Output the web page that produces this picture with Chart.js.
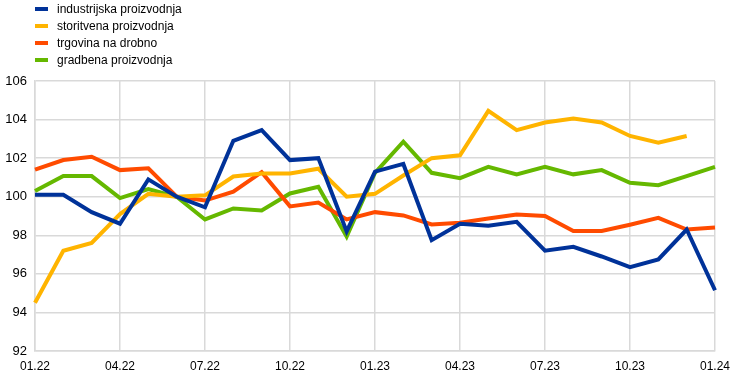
<!DOCTYPE html>
<html lang="sl">
<head>
    <meta charset="UTF-8">
    <title>Proizvodnja in trgovina</title>
    <style>
        body {
            margin: 0;
            background: #fff;
            font-family: "Liberation Sans", Arial, sans-serif;
        }
        #wrap {
            position: relative;
            width: 744px;
            height: 376px;
        }
        #legend {
            position: absolute;
            left: 35px;
            top: 0px;
            font-size: 12px;
            color: #000;
        }
        .item {
            display: flex;
            align-items: center;
            height: 17px;
        }
        .swatch {
            width: 13px;
            height: 4px;
            margin-right: 9px;
        }
    </style>
</head>
<body>
    <div id="wrap">
        <canvas id="chart" width="744" height="376"></canvas>
        <div id="legend"></div>
    </div>

    <script src="https://cdn.jsdelivr.net/npm/chart.js@4"></script>
    <script>
        // monthly, 01.22 - 01.24
        const months = [
            '01.22', '02.22', '03.22', '04.22', '05.22', '06.22', '07.22', '08.22', '09.22',
            '10.22', '11.22', '12.22', '01.23', '02.23', '03.23', '04.23', '05.23', '06.23',
            '07.23', '08.23', '09.23', '10.23', '11.23', '12.23', '01.24'
        ];

        const industrijska = [100.1, 100.1, 99.2, 98.6, 100.9, 100.0, 99.45, 102.9, 103.45, 101.9, 102.0, 98.2,
            101.3, 101.7, 97.75, 98.6, 98.5, 98.7, 97.2, 97.4, 96.9, 96.35, 96.75, 98.3, 95.15];
        const storitvena = [94.5, 97.2, 97.6, 99.1, 100.15, 100.0, 100.07, 101.05, 101.2, 101.2, 101.45, 100.0,
            100.15, 101.1, 102.0, 102.15, 104.45, 103.45, 103.85, 104.05, 103.85, 103.15, 102.8, 103.15, null];
        const trgovina = [101.4, 101.9, 102.07, 101.38, 101.47, 100.0, 99.8, 100.26, 101.27, 99.5, 99.7, 98.82,
            99.2, 99.03, 98.56, 98.65, 98.87, 99.08, 99.0, 98.22, 98.22, 98.55, 98.9, 98.3, 98.4];
        const gradbena = [100.3, 101.07, 101.07, 99.93, 100.4, 100.0, 98.82, 99.39, 99.29, 100.17, 100.52, 97.93,
            101.24, 102.85, 101.24, 100.96, 101.55, 101.16, 101.55, 101.16, 101.38, 100.72, 100.6, 101.07, 101.55];

        const seriesNames = ['industrijska proizvodnja', 'storitvena proizvodnja', 'trgovina na drobno', 'gradbena proizvodnja'];
        const seriesColors = ['#003299', '#FFB400', '#FF4B00', '#65B800'];
        const seriesData = [industrijska, storitvena, trgovina, gradbena];

        const gridColor = '#d9d9d9';

        const datasets = seriesNames.map((name, i) => ({
            label: name,
            data: seriesData[i],
            borderColor: seriesColors[i],
            backgroundColor: seriesColors[i],
            borderWidth: 4,
            pointRadius: 0,
            tension: 0,
            spanGaps: false
        }));

        // legend in html, stacked like the original
        const legendEl = document.getElementById('legend');
        seriesNames.forEach((name, i) => {
            const row = document.createElement('div');
            row.className = 'item';
            row.innerHTML = '<span class="swatch" style="background:' + seriesColors[i] + '"></span>' + name;
            legendEl.appendChild(row);
        });

        new Chart(document.getElementById('chart').getContext('2d'), {
            type: 'line',
            data: { labels: months, datasets: datasets },
            options: {
                responsive: false,
                animation: false,
                layout: { padding: { top: 81, right: 29, bottom: 0, left: 0 } },
                plugins: { legend: { display: false }, tooltip: { enabled: false } },
                scales: {
                    x: {
                        offset: false,
                        grid: {
                            color: (ctx) => (ctx.index % 3 === 0 ? gridColor : 'rgba(0,0,0,0)'),
                            lineWidth: 1.5,
                            drawTicks: false
                        },
                        border: { color: gridColor, width: 1.5 },
                        ticks: {
                            autoSkip: false,
                            maxRotation: 0,
                            padding: 8,
                            color: '#000',
                            font: { family: 'Liberation Sans', size: 12 },
                            callback: function (val, idx) {
                                return idx % 3 === 0 ? months[idx] : '';
                            }
                        },
                        afterFit: (s) => { s.height = 25; }
                    },
                    y: {
                        min: 92,
                        max: 106,
                        grid: { color: gridColor, lineWidth: 1.5, drawTicks: false },
                        border: { color: gridColor, width: 1.5 },
                        ticks: {
                            stepSize: 2,
                            padding: 8,
                            color: '#000',
                            font: { family: 'Liberation Sans', size: 13 }
                        },
                        afterFit: (s) => { s.width = 35; }
                    }
                }
            }
        });
    </script>
</body>
</html>
